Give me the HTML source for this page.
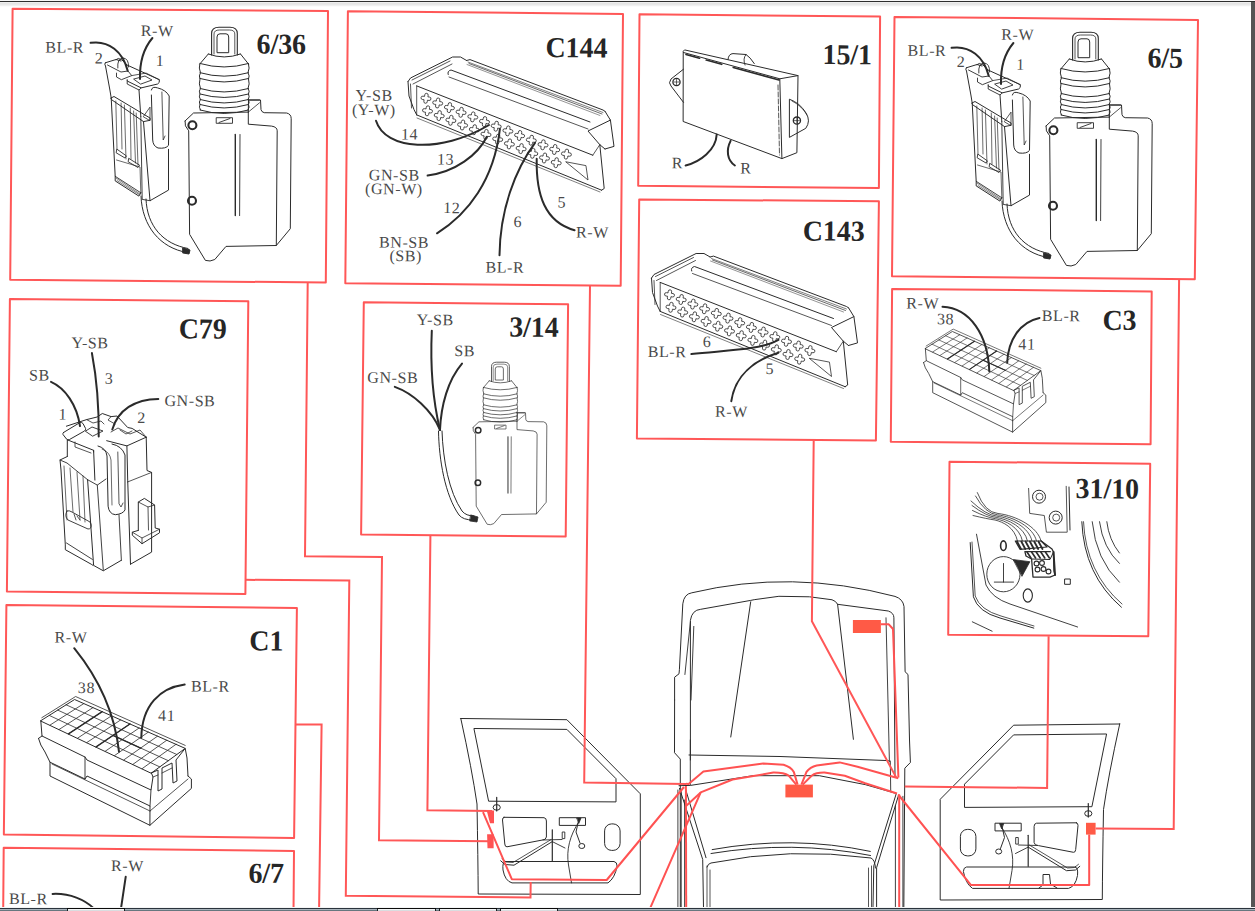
<!DOCTYPE html>
<html><head><meta charset="utf-8"><style>
html,body{margin:0;padding:0;background:#fff;}
body{width:1255px;height:911px;overflow:hidden;position:relative;}
svg{position:absolute;left:0;top:0;}
.ti{font-family:"Liberation Serif",serif;font-weight:bold;font-size:29px;fill:#262626;}
.lb{font-family:"Liberation Serif",serif;font-size:16px;letter-spacing:0.6px;fill:#4a4a4a;}
</style></head><body>
<svg width="1255" height="911" viewBox="0 0 1255 911">
<rect x="0" y="0" width="1255" height="911" fill="#fff"/>
<defs><g id="act"><path d="M211.6,55 L211.6,33.5 Q211.6,27.2 219,27.2 L230,27.2 Q237.3,27.2 237.3,33.5 L237.3,55" fill="none" stroke="#2b2b2b" stroke-width="1.1" stroke-linejoin="round" stroke-linecap="round" />
<path d="M214,54 L214,34 Q214,30 219.5,30 L229.5,30 Q234.8,30 234.8,34 L234.8,54" fill="none" stroke="#2b2b2b" stroke-width="0.8" stroke-linejoin="round" stroke-linecap="round" />
<path d="M217,52.3 L217,37 Q217,33.8 220,33.8 L226,33.8 Q228.7,33.8 228.7,37 L228.7,52.3 Z" fill="none" stroke="#2b2b2b" stroke-width="1.0" stroke-linejoin="round" stroke-linecap="round" />
<path d="M208.3,54 Q224,60 240.5,54" fill="none" stroke="#2b2b2b" stroke-width="1.0" stroke-linejoin="round" stroke-linecap="round" />
<path d="M208.3,54 L199.8,64" fill="none" stroke="#2b2b2b" stroke-width="1.0" stroke-linejoin="round" stroke-linecap="round" />
<path d="M240.5,54 L248.5,64" fill="none" stroke="#2b2b2b" stroke-width="1.0" stroke-linejoin="round" stroke-linecap="round" />
<path d="M199.8,64 Q198.5,68 200.5,72.7 Q198.5,76 200,79 Q198.5,84 200.5,88.5 Q198.5,91 200,94 Q198.5,97 200.5,99.5 Q198.5,102 200,104.5 Q198.5,107 200.5,110" fill="none" stroke="#2b2b2b" stroke-width="1.0" stroke-linejoin="round" stroke-linecap="round" />
<path d="M248.5,64 Q250,68 248,72.7 Q250,76 248.5,79 Q250,84 248,88.5 Q250,91 248.5,94 Q250,97 248,99.5 Q250,102 248.5,104.5 Q250,107 248,110" fill="none" stroke="#2b2b2b" stroke-width="1.0" stroke-linejoin="round" stroke-linecap="round" />
<path d="M200,63.5 Q224,70.5 248.5,63.5" fill="none" stroke="#2b2b2b" stroke-width="1.0" stroke-linejoin="round" stroke-linecap="round" />
<path d="M200,72.7 Q224,79.7 248.5,72.7" fill="none" stroke="#2b2b2b" stroke-width="1.0" stroke-linejoin="round" stroke-linecap="round" />
<path d="M200,78.5 Q224,85.5 248.5,78.5" fill="none" stroke="#2b2b2b" stroke-width="1.0" stroke-linejoin="round" stroke-linecap="round" />
<path d="M200,88.5 Q224,95.5 248.5,88.5" fill="none" stroke="#2b2b2b" stroke-width="1.0" stroke-linejoin="round" stroke-linecap="round" />
<path d="M200,94 Q224,101 248.5,94" fill="none" stroke="#2b2b2b" stroke-width="1.0" stroke-linejoin="round" stroke-linecap="round" />
<path d="M200,99.5 Q224,106.5 248.5,99.5" fill="none" stroke="#2b2b2b" stroke-width="1.0" stroke-linejoin="round" stroke-linecap="round" />
<path d="M200,104.5 Q224,111.5 248.5,104.5" fill="none" stroke="#2b2b2b" stroke-width="1.0" stroke-linejoin="round" stroke-linecap="round" />
<path d="M200,110 Q224,117 248.5,110" fill="none" stroke="#2b2b2b" stroke-width="1.0" stroke-linejoin="round" stroke-linecap="round" />
<path d="M185,121 L193.5,113 L248.3,112.1" fill="none" stroke="#2b2b2b" stroke-width="1.0" stroke-linejoin="round" stroke-linecap="round" />
<path d="M248.3,112.1 L248.5,100 L260.5,100 L261,109.6 Q261.4,112 264.2,112.7 L286.6,113 Q291.2,114 291.2,118.7 L290.3,228.7 L276.3,245.5" fill="none" stroke="#2b2b2b" stroke-width="1.0" stroke-linejoin="round" stroke-linecap="round" />
<path d="M248.3,100 L259.5,100" fill="none" stroke="#2b2b2b" stroke-width="1.0" stroke-linejoin="round" stroke-linecap="round" />
<path d="M248.3,112.1 L259.5,102.8" fill="none" stroke="#2b2b2b" stroke-width="0.8" stroke-linejoin="round" stroke-linecap="round" />
<path d="M248.3,112.1 L248.3,124.2 L271.6,126.1 Q277.2,127 277.2,130.8 L276.3,245.5 L226,246.4 L214.8,259.5 Q210,262 205.4,260.4 L189.6,234.3 L188.7,130.8 Q184,126 185,121" fill="none" stroke="#2b2b2b" stroke-width="1.0" stroke-linejoin="round" stroke-linecap="round" />
<circle cx="192.4" cy="125.2" r="4" fill="none" stroke="#2b2b2b" stroke-width="2.1"/>
<circle cx="192" cy="200.7" r="4" fill="none" stroke="#2b2b2b" stroke-width="2.1"/>
<path d="M216.6,117.7 L232.5,117.7 L232.5,123.3 L216.6,123.3 Z M219,122.5 L230,118.5" fill="none" stroke="#2b2b2b" stroke-width="0.9" stroke-linejoin="round" stroke-linecap="round" />
<path d="M235.3,134.5 L235.3,215.6" fill="none" stroke="#2b2b2b" stroke-width="1.4" stroke-linejoin="round" stroke-linecap="round" />
<path d="M240,134.5 L239.6,215.6" fill="none" stroke="#2b2b2b" stroke-width="0.9" stroke-linejoin="round" stroke-linecap="round" /></g><g id="con"><path d="M105.3,62.8 L116,59.5 L121,61" fill="none" stroke="#2b2b2b" stroke-width="1.0" stroke-linejoin="round" stroke-linecap="round" />
<path d="M105.3,62.8 Q104,64 105.5,66 L109.9,90 L111.2,97.9" fill="none" stroke="#2b2b2b" stroke-width="1.0" stroke-linejoin="round" stroke-linecap="round" />
<path d="M107.5,65 L121,72 L128,71 L131.7,75.6 L121.4,79.7 L116.5,77 L116.5,73.1" fill="none" stroke="#2b2b2b" stroke-width="0.9" stroke-linejoin="round" stroke-linecap="round" />
<path d="M117.8,68 Q117,58.5 123,58 Q128.8,58.3 128.6,67" fill="none" stroke="#2b2b2b" stroke-width="0.9" stroke-linejoin="round" stroke-linecap="round" />
<path d="M116,59.5 Q118,57 122,60 L127,65 L159.3,79.7 Q160,83 157.6,84 L141.2,87.9 L127.2,81 L127.2,79.7" fill="none" stroke="#2b2b2b" stroke-width="1.0" stroke-linejoin="round" stroke-linecap="round" />
<path d="M131.7,75.6 L146.1,73.1 L159.3,79.7" fill="none" stroke="#2b2b2b" stroke-width="0.8" stroke-linejoin="round" stroke-linecap="round" />
<path d="M134,79 L145,76 L152,80 L141,84 Z" fill="none" stroke="#2b2b2b" stroke-width="0.9" stroke-linejoin="round" stroke-linecap="round" />
<path d="M127.2,81 L127.2,84 L139,90 L141.2,87.9" fill="none" stroke="#2b2b2b" stroke-width="0.9" stroke-linejoin="round" stroke-linecap="round" />
<path d="M139,90 L140.8,116.4 M143.5,121.6 L150,200.7 L168.5,190.1 L168.5,149.3" fill="none" stroke="#2b2b2b" stroke-width="1.0" stroke-linejoin="round" stroke-linecap="round" />
<path d="M140.8,116.4 L142.2,199.4 L150,200.7" fill="none" stroke="#2b2b2b" stroke-width="0.9" stroke-linejoin="round" stroke-linecap="round" />
<path d="M151.4,90 Q152,86 157.6,87.9 Q166,90 169.2,96 L168.5,145.3 Q166,149 158,148 Q153,146 152.7,140 L151.4,95" fill="none" stroke="#2b2b2b" stroke-width="1.0" stroke-linejoin="round" stroke-linecap="round" />
<path d="M161.9,92 L163.2,140 L165,136" fill="none" stroke="#2b2b2b" stroke-width="0.8" stroke-linejoin="round" stroke-linecap="round" />
<path d="M143.5,116.4 L150,107.1 L150,120.3 Z" fill="none" stroke="#2b2b2b" stroke-width="0.8" stroke-linejoin="round" stroke-linecap="round" />
<path d="M111.2,97.9 L114,96.5 L150,118 L150,120.3 L143.5,121.6 L111.9,99.9 Z" fill="none" stroke="#2b2b2b" stroke-width="1.0" stroke-linejoin="round" stroke-linecap="round" />
<path d="M111.2,97.9 L115.2,176.3 L115.2,180.9 L138.9,196.1 L140.8,192.8" fill="none" stroke="#2b2b2b" stroke-width="1.0" stroke-linejoin="round" stroke-linecap="round" />
<path d="M115.8,101 L117,149 M121.1,103 L122,149 M124.4,105 L126,159 M130.3,108 L131,159 M133.6,111 L135.5,163 M136.2,113 L138,165" fill="none" stroke="#2b2b2b" stroke-width="0.7" stroke-linejoin="round" stroke-linecap="round" />
<path d="M117.1,149.3 L126.4,155.9 L125,158 L116.5,153 Z M129,158.5 L139.5,165.1 L138,167.5 L128.5,162 Z" fill="none" stroke="#2b2b2b" stroke-width="0.9" stroke-linejoin="round" stroke-linecap="round" />
<path d="M115.2,176.3 L140.8,192.8" fill="none" stroke="#2b2b2b" stroke-width="0.9" stroke-linejoin="round" stroke-linecap="round" />
<path d="M116,178 L140,194 M117,180.5 L139,194.5" fill="none" stroke="#2b2b2b" stroke-width="0.6" stroke-linejoin="round" stroke-linecap="round" />
<path d="M116.5,160 L140,167 L140.8,192.8" fill="none" stroke="#2b2b2b" stroke-width="0.7" stroke-linejoin="round" stroke-linecap="round" />
<path d="M141,196 C142,226 160,248 187,252.5" fill="none" stroke="#2b2b2b" stroke-width="1.0" stroke-linejoin="round" stroke-linecap="round" />
<path d="M146,199 C147,226 163,244 188,248.5" fill="none" stroke="#2b2b2b" stroke-width="1.0" stroke-linejoin="round" stroke-linecap="round" />
<path d="M183,248 L190,250 L189,254 L183,253 Z" fill="#2b2b2b" stroke="#2b2b2b" stroke-width="1.0" stroke-linejoin="round" stroke-linecap="round" />
<path d="M90.6,42.8 C109,40 123,52 127.7,70.8" fill="none" stroke="#2b2b2b" stroke-width="2.0" stroke-linejoin="round" stroke-linecap="round" />
<path d="M152.4,38 C144,48 139.5,62 140,79" fill="none" stroke="#2b2b2b" stroke-width="2.0" stroke-linejoin="round" stroke-linecap="round" /></g><g id="c144"><path d="M408,81.6 L410.5,78 L452.6,57 L460.5,57 L466.6,60.5" fill="none" stroke="#2b2b2b" stroke-width="1.0" stroke-linejoin="round" stroke-linecap="round" />
<path d="M408,81.6 L409,96 L414,109.6 L416.7,114.9" fill="none" stroke="#2b2b2b" stroke-width="1.0" stroke-linejoin="round" stroke-linecap="round" />
<path d="M412,80 L450,61 M413,84 L452,64" fill="none" stroke="#2b2b2b" stroke-width="0.8" stroke-linejoin="round" stroke-linecap="round" />
<path d="M410.5,84 L411.5,108" fill="none" stroke="#2b2b2b" stroke-width="0.8" stroke-linejoin="round" stroke-linecap="round" />
<path d="M466.6,60.5 L470,59.6 L603,110 L605.1,111.4" fill="none" stroke="#2b2b2b" stroke-width="1.0" stroke-linejoin="round" stroke-linecap="round" />
<path d="M469,63.5 L602,114" fill="none" stroke="#2b2b2b" stroke-width="0.7" stroke-linejoin="round" stroke-linecap="round" />
<path d="M448.2,74.5 Q447,71 451,70 L590,122" fill="none" stroke="#2b2b2b" stroke-width="1.0" stroke-linejoin="round" stroke-linecap="round" />
<path d="M449,77 L588,129" fill="none" stroke="#2b2b2b" stroke-width="0.8" stroke-linejoin="round" stroke-linecap="round" />
<path d="M416.7,85.9 L592.8,155.2" fill="none" stroke="#2b2b2b" stroke-width="1.0" stroke-linejoin="round" stroke-linecap="round" />
<path d="M416.7,114.9 L601.6,190.2" fill="none" stroke="#2b2b2b" stroke-width="1.0" stroke-linejoin="round" stroke-linecap="round" />
<path d="M417,118 L600,192" fill="none" stroke="#2b2b2b" stroke-width="0.6" stroke-linejoin="round" stroke-linecap="round" />
<path d="M416.7,85.9 L416.7,114.9" fill="none" stroke="#2b2b2b" stroke-width="0.8" stroke-linejoin="round" stroke-linecap="round" />
<path d="M605.1,111.4 L610.4,120.1 L588,131 L599.8,144.7 L604.2,188.5 L601.6,190.2" fill="none" stroke="#2b2b2b" stroke-width="1.0" stroke-linejoin="round" stroke-linecap="round" />
<path d="M610.4,120.1 L614,146.4 L605,149 M599.8,144.7 L605,149" fill="none" stroke="#2b2b2b" stroke-width="1.0" stroke-linejoin="round" stroke-linecap="round" />
<path d="M592.8,155.2 L599.8,144.7" fill="none" stroke="#2b2b2b" stroke-width="0.8" stroke-linejoin="round" stroke-linecap="round" />
<path d="M566,162 L588,180 L586,166 Z" fill="none" stroke="#2b2b2b" stroke-width="0.8" stroke-linejoin="round" stroke-linecap="round" />
<path d="M-1.7,-3.3 A1.7,1.7 0 0 1 1.7,-3.3 L1.7,-1.7 L3.3,-1.7 A1.7,1.7 0 0 1 3.3,1.7 L1.7,1.7 L1.7,3.3 A1.7,1.7 0 0 1 -1.7,3.3 L-1.7,1.7 L-3.3,1.7 A1.7,1.7 0 0 1 -3.3,-1.7 L-1.7,-1.7 Z" transform="translate(426.0,98.3) rotate(8)" fill="none" stroke="#2b2b2b" stroke-width="0.8" stroke-linejoin="round"/>
<path d="M-1.7,-3.3 A1.7,1.7 0 0 1 1.7,-3.3 L1.7,-1.7 L3.3,-1.7 A1.7,1.7 0 0 1 3.3,1.7 L1.7,1.7 L1.7,3.3 A1.7,1.7 0 0 1 -1.7,3.3 L-1.7,1.7 L-3.3,1.7 A1.7,1.7 0 0 1 -3.3,-1.7 L-1.7,-1.7 Z" transform="translate(427.5,110.8) rotate(8)" fill="none" stroke="#2b2b2b" stroke-width="0.8" stroke-linejoin="round"/>
<path d="M-1.7,-3.3 A1.7,1.7 0 0 1 1.7,-3.3 L1.7,-1.7 L3.3,-1.7 A1.7,1.7 0 0 1 3.3,1.7 L1.7,1.7 L1.7,3.3 A1.7,1.7 0 0 1 -1.7,3.3 L-1.7,1.7 L-3.3,1.7 A1.7,1.7 0 0 1 -3.3,-1.7 L-1.7,-1.7 Z" transform="translate(437.7,103.0) rotate(8)" fill="none" stroke="#2b2b2b" stroke-width="0.8" stroke-linejoin="round"/>
<path d="M-1.7,-3.3 A1.7,1.7 0 0 1 1.7,-3.3 L1.7,-1.7 L3.3,-1.7 A1.7,1.7 0 0 1 3.3,1.7 L1.7,1.7 L1.7,3.3 A1.7,1.7 0 0 1 -1.7,3.3 L-1.7,1.7 L-3.3,1.7 A1.7,1.7 0 0 1 -3.3,-1.7 L-1.7,-1.7 Z" transform="translate(439.2,115.6) rotate(8)" fill="none" stroke="#2b2b2b" stroke-width="0.8" stroke-linejoin="round"/>
<path d="M-1.7,-3.3 A1.7,1.7 0 0 1 1.7,-3.3 L1.7,-1.7 L3.3,-1.7 A1.7,1.7 0 0 1 3.3,1.7 L1.7,1.7 L1.7,3.3 A1.7,1.7 0 0 1 -1.7,3.3 L-1.7,1.7 L-3.3,1.7 A1.7,1.7 0 0 1 -3.3,-1.7 L-1.7,-1.7 Z" transform="translate(449.4,107.6) rotate(8)" fill="none" stroke="#2b2b2b" stroke-width="0.8" stroke-linejoin="round"/>
<path d="M-1.7,-3.3 A1.7,1.7 0 0 1 1.7,-3.3 L1.7,-1.7 L3.3,-1.7 A1.7,1.7 0 0 1 3.3,1.7 L1.7,1.7 L1.7,3.3 A1.7,1.7 0 0 1 -1.7,3.3 L-1.7,1.7 L-3.3,1.7 A1.7,1.7 0 0 1 -3.3,-1.7 L-1.7,-1.7 Z" transform="translate(450.9,120.3) rotate(8)" fill="none" stroke="#2b2b2b" stroke-width="0.8" stroke-linejoin="round"/>
<path d="M-1.7,-3.3 A1.7,1.7 0 0 1 1.7,-3.3 L1.7,-1.7 L3.3,-1.7 A1.7,1.7 0 0 1 3.3,1.7 L1.7,1.7 L1.7,3.3 A1.7,1.7 0 0 1 -1.7,3.3 L-1.7,1.7 L-3.3,1.7 A1.7,1.7 0 0 1 -3.3,-1.7 L-1.7,-1.7 Z" transform="translate(461.1,112.3) rotate(8)" fill="none" stroke="#2b2b2b" stroke-width="0.8" stroke-linejoin="round"/>
<path d="M-1.7,-3.3 A1.7,1.7 0 0 1 1.7,-3.3 L1.7,-1.7 L3.3,-1.7 A1.7,1.7 0 0 1 3.3,1.7 L1.7,1.7 L1.7,3.3 A1.7,1.7 0 0 1 -1.7,3.3 L-1.7,1.7 L-3.3,1.7 A1.7,1.7 0 0 1 -3.3,-1.7 L-1.7,-1.7 Z" transform="translate(462.6,125.0) rotate(8)" fill="none" stroke="#2b2b2b" stroke-width="0.8" stroke-linejoin="round"/>
<path d="M-1.7,-3.3 A1.7,1.7 0 0 1 1.7,-3.3 L1.7,-1.7 L3.3,-1.7 A1.7,1.7 0 0 1 3.3,1.7 L1.7,1.7 L1.7,3.3 A1.7,1.7 0 0 1 -1.7,3.3 L-1.7,1.7 L-3.3,1.7 A1.7,1.7 0 0 1 -3.3,-1.7 L-1.7,-1.7 Z" transform="translate(472.8,116.9) rotate(8)" fill="none" stroke="#2b2b2b" stroke-width="0.8" stroke-linejoin="round"/>
<path d="M-1.7,-3.3 A1.7,1.7 0 0 1 1.7,-3.3 L1.7,-1.7 L3.3,-1.7 A1.7,1.7 0 0 1 3.3,1.7 L1.7,1.7 L1.7,3.3 A1.7,1.7 0 0 1 -1.7,3.3 L-1.7,1.7 L-3.3,1.7 A1.7,1.7 0 0 1 -3.3,-1.7 L-1.7,-1.7 Z" transform="translate(474.3,129.7) rotate(8)" fill="none" stroke="#2b2b2b" stroke-width="0.8" stroke-linejoin="round"/>
<path d="M-1.7,-3.3 A1.7,1.7 0 0 1 1.7,-3.3 L1.7,-1.7 L3.3,-1.7 A1.7,1.7 0 0 1 3.3,1.7 L1.7,1.7 L1.7,3.3 A1.7,1.7 0 0 1 -1.7,3.3 L-1.7,1.7 L-3.3,1.7 A1.7,1.7 0 0 1 -3.3,-1.7 L-1.7,-1.7 Z" transform="translate(484.5,121.6) rotate(8)" fill="none" stroke="#2b2b2b" stroke-width="0.8" stroke-linejoin="round"/>
<path d="M-1.7,-3.3 A1.7,1.7 0 0 1 1.7,-3.3 L1.7,-1.7 L3.3,-1.7 A1.7,1.7 0 0 1 3.3,1.7 L1.7,1.7 L1.7,3.3 A1.7,1.7 0 0 1 -1.7,3.3 L-1.7,1.7 L-3.3,1.7 A1.7,1.7 0 0 1 -3.3,-1.7 L-1.7,-1.7 Z" transform="translate(486.0,134.4) rotate(8)" fill="none" stroke="#2b2b2b" stroke-width="0.8" stroke-linejoin="round"/>
<path d="M-1.7,-3.3 A1.7,1.7 0 0 1 1.7,-3.3 L1.7,-1.7 L3.3,-1.7 A1.7,1.7 0 0 1 3.3,1.7 L1.7,1.7 L1.7,3.3 A1.7,1.7 0 0 1 -1.7,3.3 L-1.7,1.7 L-3.3,1.7 A1.7,1.7 0 0 1 -3.3,-1.7 L-1.7,-1.7 Z" transform="translate(496.2,126.2) rotate(8)" fill="none" stroke="#2b2b2b" stroke-width="0.8" stroke-linejoin="round"/>
<path d="M-1.7,-3.3 A1.7,1.7 0 0 1 1.7,-3.3 L1.7,-1.7 L3.3,-1.7 A1.7,1.7 0 0 1 3.3,1.7 L1.7,1.7 L1.7,3.3 A1.7,1.7 0 0 1 -1.7,3.3 L-1.7,1.7 L-3.3,1.7 A1.7,1.7 0 0 1 -3.3,-1.7 L-1.7,-1.7 Z" transform="translate(497.7,139.2) rotate(8)" fill="none" stroke="#2b2b2b" stroke-width="0.8" stroke-linejoin="round"/>
<path d="M-1.7,-3.3 A1.7,1.7 0 0 1 1.7,-3.3 L1.7,-1.7 L3.3,-1.7 A1.7,1.7 0 0 1 3.3,1.7 L1.7,1.7 L1.7,3.3 A1.7,1.7 0 0 1 -1.7,3.3 L-1.7,1.7 L-3.3,1.7 A1.7,1.7 0 0 1 -3.3,-1.7 L-1.7,-1.7 Z" transform="translate(507.9,130.9) rotate(8)" fill="none" stroke="#2b2b2b" stroke-width="0.8" stroke-linejoin="round"/>
<path d="M-1.7,-3.3 A1.7,1.7 0 0 1 1.7,-3.3 L1.7,-1.7 L3.3,-1.7 A1.7,1.7 0 0 1 3.3,1.7 L1.7,1.7 L1.7,3.3 A1.7,1.7 0 0 1 -1.7,3.3 L-1.7,1.7 L-3.3,1.7 A1.7,1.7 0 0 1 -3.3,-1.7 L-1.7,-1.7 Z" transform="translate(509.4,143.9) rotate(8)" fill="none" stroke="#2b2b2b" stroke-width="0.8" stroke-linejoin="round"/>
<path d="M-1.7,-3.3 A1.7,1.7 0 0 1 1.7,-3.3 L1.7,-1.7 L3.3,-1.7 A1.7,1.7 0 0 1 3.3,1.7 L1.7,1.7 L1.7,3.3 A1.7,1.7 0 0 1 -1.7,3.3 L-1.7,1.7 L-3.3,1.7 A1.7,1.7 0 0 1 -3.3,-1.7 L-1.7,-1.7 Z" transform="translate(519.6,135.5) rotate(8)" fill="none" stroke="#2b2b2b" stroke-width="0.8" stroke-linejoin="round"/>
<path d="M-1.7,-3.3 A1.7,1.7 0 0 1 1.7,-3.3 L1.7,-1.7 L3.3,-1.7 A1.7,1.7 0 0 1 3.3,1.7 L1.7,1.7 L1.7,3.3 A1.7,1.7 0 0 1 -1.7,3.3 L-1.7,1.7 L-3.3,1.7 A1.7,1.7 0 0 1 -3.3,-1.7 L-1.7,-1.7 Z" transform="translate(521.1,148.6) rotate(8)" fill="none" stroke="#2b2b2b" stroke-width="0.8" stroke-linejoin="round"/>
<path d="M-1.7,-3.3 A1.7,1.7 0 0 1 1.7,-3.3 L1.7,-1.7 L3.3,-1.7 A1.7,1.7 0 0 1 3.3,1.7 L1.7,1.7 L1.7,3.3 A1.7,1.7 0 0 1 -1.7,3.3 L-1.7,1.7 L-3.3,1.7 A1.7,1.7 0 0 1 -3.3,-1.7 L-1.7,-1.7 Z" transform="translate(531.3,140.2) rotate(8)" fill="none" stroke="#2b2b2b" stroke-width="0.8" stroke-linejoin="round"/>
<path d="M-1.7,-3.3 A1.7,1.7 0 0 1 1.7,-3.3 L1.7,-1.7 L3.3,-1.7 A1.7,1.7 0 0 1 3.3,1.7 L1.7,1.7 L1.7,3.3 A1.7,1.7 0 0 1 -1.7,3.3 L-1.7,1.7 L-3.3,1.7 A1.7,1.7 0 0 1 -3.3,-1.7 L-1.7,-1.7 Z" transform="translate(532.8,153.3) rotate(8)" fill="none" stroke="#2b2b2b" stroke-width="0.8" stroke-linejoin="round"/>
<path d="M-1.7,-3.3 A1.7,1.7 0 0 1 1.7,-3.3 L1.7,-1.7 L3.3,-1.7 A1.7,1.7 0 0 1 3.3,1.7 L1.7,1.7 L1.7,3.3 A1.7,1.7 0 0 1 -1.7,3.3 L-1.7,1.7 L-3.3,1.7 A1.7,1.7 0 0 1 -3.3,-1.7 L-1.7,-1.7 Z" transform="translate(543.0,144.8) rotate(8)" fill="none" stroke="#2b2b2b" stroke-width="0.8" stroke-linejoin="round"/>
<path d="M-1.7,-3.3 A1.7,1.7 0 0 1 1.7,-3.3 L1.7,-1.7 L3.3,-1.7 A1.7,1.7 0 0 1 3.3,1.7 L1.7,1.7 L1.7,3.3 A1.7,1.7 0 0 1 -1.7,3.3 L-1.7,1.7 L-3.3,1.7 A1.7,1.7 0 0 1 -3.3,-1.7 L-1.7,-1.7 Z" transform="translate(544.5,158.0) rotate(8)" fill="none" stroke="#2b2b2b" stroke-width="0.8" stroke-linejoin="round"/>
<path d="M-1.7,-3.3 A1.7,1.7 0 0 1 1.7,-3.3 L1.7,-1.7 L3.3,-1.7 A1.7,1.7 0 0 1 3.3,1.7 L1.7,1.7 L1.7,3.3 A1.7,1.7 0 0 1 -1.7,3.3 L-1.7,1.7 L-3.3,1.7 A1.7,1.7 0 0 1 -3.3,-1.7 L-1.7,-1.7 Z" transform="translate(554.7,149.5) rotate(8)" fill="none" stroke="#2b2b2b" stroke-width="0.8" stroke-linejoin="round"/>
<path d="M-1.7,-3.3 A1.7,1.7 0 0 1 1.7,-3.3 L1.7,-1.7 L3.3,-1.7 A1.7,1.7 0 0 1 3.3,1.7 L1.7,1.7 L1.7,3.3 A1.7,1.7 0 0 1 -1.7,3.3 L-1.7,1.7 L-3.3,1.7 A1.7,1.7 0 0 1 -3.3,-1.7 L-1.7,-1.7 Z" transform="translate(556.2,162.7) rotate(8)" fill="none" stroke="#2b2b2b" stroke-width="0.8" stroke-linejoin="round"/>
<path d="M-1.7,-3.3 A1.7,1.7 0 0 1 1.7,-3.3 L1.7,-1.7 L3.3,-1.7 A1.7,1.7 0 0 1 3.3,1.7 L1.7,1.7 L1.7,3.3 A1.7,1.7 0 0 1 -1.7,3.3 L-1.7,1.7 L-3.3,1.7 A1.7,1.7 0 0 1 -3.3,-1.7 L-1.7,-1.7 Z" transform="translate(566.4,154.1) rotate(8)" fill="none" stroke="#2b2b2b" stroke-width="0.8" stroke-linejoin="round"/>
<path d="M468,62 L603,112.5" fill="none" stroke="#2b2b2b" stroke-width="0.6" stroke-linejoin="round" stroke-linecap="round" />
<path d="M467,64.5 L600,115.5" fill="none" stroke="#2b2b2b" stroke-width="0.5" stroke-linejoin="round" stroke-linecap="round" /></g><g id="c1"><path d="M40.8,720.7 L74.6,699.5 L185.2,748.4 L151.4,773.0 Z" fill="none" stroke="#2b2b2b" stroke-width="1.0" stroke-linejoin="round" stroke-linecap="round" />
<path d="M41.8,717.7 L75.6,696.5 L185.2,745.4" fill="none" stroke="#2b2b2b" stroke-width="0.8" stroke-linejoin="round" stroke-linecap="round" />
<path d="M50.0,725.1 L83.8,703.6" fill="none" stroke="#2b2b2b" stroke-width="0.8" stroke-linejoin="round" stroke-linecap="round" />
<path d="M59.2,729.4 L93.0,707.6" fill="none" stroke="#2b2b2b" stroke-width="0.8" stroke-linejoin="round" stroke-linecap="round" />
<path d="M68.5,733.8 L102.2,711.7" fill="none" stroke="#2b2b2b" stroke-width="0.8" stroke-linejoin="round" stroke-linecap="round" />
<path d="M77.7,738.1 L111.5,715.8" fill="none" stroke="#2b2b2b" stroke-width="0.8" stroke-linejoin="round" stroke-linecap="round" />
<path d="M86.9,742.5 L120.7,719.9" fill="none" stroke="#2b2b2b" stroke-width="0.8" stroke-linejoin="round" stroke-linecap="round" />
<path d="M96.1,746.9 L129.9,724.0" fill="none" stroke="#2b2b2b" stroke-width="0.8" stroke-linejoin="round" stroke-linecap="round" />
<path d="M105.3,751.2 L139.1,728.0" fill="none" stroke="#2b2b2b" stroke-width="0.8" stroke-linejoin="round" stroke-linecap="round" />
<path d="M114.5,755.6 L148.3,732.1" fill="none" stroke="#2b2b2b" stroke-width="0.8" stroke-linejoin="round" stroke-linecap="round" />
<path d="M123.8,759.9 L157.5,736.2" fill="none" stroke="#2b2b2b" stroke-width="0.8" stroke-linejoin="round" stroke-linecap="round" />
<path d="M133.0,764.3 L166.8,740.2" fill="none" stroke="#2b2b2b" stroke-width="0.8" stroke-linejoin="round" stroke-linecap="round" />
<path d="M142.2,768.6 L176.0,744.3" fill="none" stroke="#2b2b2b" stroke-width="0.8" stroke-linejoin="round" stroke-linecap="round" />
<path d="M49.2,715.4 L159.8,766.9" fill="none" stroke="#2b2b2b" stroke-width="0.8" stroke-linejoin="round" stroke-linecap="round" />
<path d="M57.7,710.1 L168.3,760.7" fill="none" stroke="#2b2b2b" stroke-width="0.8" stroke-linejoin="round" stroke-linecap="round" />
<path d="M66.1,704.8 L176.8,754.5" fill="none" stroke="#2b2b2b" stroke-width="0.8" stroke-linejoin="round" stroke-linecap="round" />
<path d="M68.5,733.8 L102.2,711.7" fill="none" stroke="#2b2b2b" stroke-width="1.4" stroke-linejoin="round" stroke-linecap="round" />
<path d="M96.1,746.9 L129.9,724.0" fill="none" stroke="#2b2b2b" stroke-width="1.4" stroke-linejoin="round" stroke-linecap="round" />
<path d="M113.0,735.4 L140.7,748.1" fill="none" stroke="#2b2b2b" stroke-width="1.4" stroke-linejoin="round" stroke-linecap="round" />
<path d="M40.8,720.7 L42,736 L85,757 L87,760 L151,790 L153,777 L151.4,773" fill="none" stroke="#2b2b2b" stroke-width="1.0" stroke-linejoin="round" stroke-linecap="round" />
<path d="M38.5,738.4 L42,736 M38.5,738.4 Q40,745 45,752 L50,762.2 L50,776 L149.9,825.3 L191.4,788.4 L191.4,779 L188,776" fill="none" stroke="#2b2b2b" stroke-width="1.0" stroke-linejoin="round" stroke-linecap="round" />
<path d="M50,762.2 L85,779 L87,776 L150,806 L149.9,825.3" fill="none" stroke="#2b2b2b" stroke-width="1.0" stroke-linejoin="round" stroke-linecap="round" />
<path d="M85,757 L85,779 M150,806 L151,790" fill="none" stroke="#2b2b2b" stroke-width="0.9" stroke-linejoin="round" stroke-linecap="round" />
<path d="M52,764 L150,811 M150,811 L188,779" fill="none" stroke="#2b2b2b" stroke-width="0.8" stroke-linejoin="round" stroke-linecap="round" />
<path d="M151.4,773 L158,770 L158,791 L162,789 L162,768 L172,763 L173,783 L177,781 L176,760 L185.2,748.4 L187,758 L188,776" fill="none" stroke="#2b2b2b" stroke-width="1.0" stroke-linejoin="round" stroke-linecap="round" />
<path d="M153,777 L158,775 M162,773 L172,768" fill="none" stroke="#2b2b2b" stroke-width="0.8" stroke-linejoin="round" stroke-linecap="round" /></g><g id="door"><path d="M460.8,718.5 L566.9,719.7 L640.3,793.8 L640.3,894.5 L478.2,894 Q478,860 477,804 Q472,769.5 460.8,718.5 Z" fill="none" stroke="#2b2b2b" stroke-width="1.0" stroke-linejoin="round" stroke-linecap="round" />
<path d="M474.3,728.5 L566.9,729.4 L616,778.7 L616,801.9 L489,801.2 Z" fill="none" stroke="#2b2b2b" stroke-width="1.0" stroke-linejoin="round" stroke-linecap="round" />
<path d="M504,817.3 L544,817.7 Q546.4,818 546.4,821 L546.4,837 Q546,840 542,840.1 L507,846.8 Q505,847 504.8,844 L502.5,820 Q502.5,817.3 504,817.3 Z" fill="none" stroke="#2b2b2b" stroke-width="1.0" stroke-linejoin="round" stroke-linecap="round" />
<path d="M505,861.5 L614,861.5 Q617.1,862 617.1,866 Q615,878 608,882.9 L512,882.9 Q505,881 503,870 Q502.2,862 505,861.5 Z" fill="none" stroke="#2b2b2b" stroke-width="1.0" stroke-linejoin="round" stroke-linecap="round" />
<path d="M559.7,817.7 L585.5,817.7 L585.5,825.4 L559.7,825.4 Z" fill="none" stroke="#2b2b2b" stroke-width="1.0" stroke-linejoin="round" stroke-linecap="round" />
<rect x="604.6" y="823.9" width="15.5" height="26.5" rx="7" fill="none" stroke="#2b2b2b" stroke-width="1"/>
<path d="M500.7,860.8 L505,864.5 L514,865.2 L552.3,841.6" fill="none" stroke="#2b2b2b" stroke-width="1.0" stroke-linejoin="round" stroke-linecap="round" />
<path d="M502,858.8 L506,862 L513,862.5 L551,839.6" fill="none" stroke="#2b2b2b" stroke-width="0.8" stroke-linejoin="round" stroke-linecap="round" />
<path d="M552.3,829.8 L552.3,860.8" fill="none" stroke="#2b2b2b" stroke-width="1.2" stroke-linejoin="round" stroke-linecap="round" />
<path d="M552.3,841.6 L565,848 M543,840 L562,839.5" fill="none" stroke="#2b2b2b" stroke-width="0.9" stroke-linejoin="round" stroke-linecap="round" />
<path d="M562.6,832 L564.8,832 L564.8,838.6 L562.6,838.6 Z" fill="none" stroke="#2b2b2b" stroke-width="0.9" stroke-linejoin="round" stroke-linecap="round" />
<ellipse cx="581.8" cy="846" rx="3" ry="2.5" fill="none" stroke="#2b2b2b" stroke-width="1"/>
<path d="M578.8,819.5 L576,832 L580,843" fill="none" stroke="#2b2b2b" stroke-width="1.0" stroke-linejoin="round" stroke-linecap="round" />
<path d="M578.8,822 C570,835 566,850 568.5,865 L571.5,882.9" fill="none" stroke="#2b2b2b" stroke-width="0.9" stroke-linejoin="round" stroke-linecap="round" />
<path d="M577,818 L581,818 L579,823 Z" fill="#2b2b2b" stroke="#2b2b2b" stroke-width="0.8" stroke-linejoin="round" stroke-linecap="round" /></g></defs>
<use href="#act"/><use href="#con"/>
<use href="#act" transform="translate(861,5)"/><use href="#con" transform="translate(861,5)"/>
<use href="#act" transform="translate(500.4,362.2) scale(0.695) translate(-224.4,-27.2)"/>
<use href="#c144"/><use href="#c144" transform="translate(243.5,196.5)"/>
<use href="#c1"/><use href="#c1" transform="translate(923.5,362.6) scale(0.8) translate(-38.5,-738.4)"/>
<path d="M63.5,432.5 L79.7,422.7 Q82,422 83,423.5 L85.6,428.5 Q86,430 84.5,431 L69.5,439.5 Q67.5,440.5 66.5,439 L63,434.5 Q62.5,433.3 63.5,432.5 Z" fill="none" stroke="#2b2b2b" stroke-width="1.0" stroke-linejoin="round" stroke-linecap="round" />
<path d="M66.4,426.2 L86.6,419.6 L97.1,417 L102.3,413.5 L111.1,416.6 L117,416 L127.7,427.5 L132.1,428.4 L146.2,437.2" fill="none" stroke="#2b2b2b" stroke-width="1.0" stroke-linejoin="round" stroke-linecap="round" />
<path d="M86.6,419.6 L93,423 L101,421 L104,424 M111.1,416.6 L108,420 L115,424" fill="none" stroke="#2b2b2b" stroke-width="0.8" stroke-linejoin="round" stroke-linecap="round" />
<path d="M85.7,431 L92,427 L103,431 L93,436 Z" fill="none" stroke="#2b2b2b" stroke-width="0.9" stroke-linejoin="round" stroke-linecap="round" />
<path d="M111,432 L118,428 L130,434 L140,430 L146.2,437.2" fill="none" stroke="#2b2b2b" stroke-width="0.8" stroke-linejoin="round" stroke-linecap="round" />
<path d="M120,430 L126,434 L132,431" fill="none" stroke="#2b2b2b" stroke-width="0.8" stroke-linejoin="round" stroke-linecap="round" />
<path d="M67.3,439.8 L93.6,450.3 L93.6,452" fill="none" stroke="#2b2b2b" stroke-width="1.0" stroke-linejoin="round" stroke-linecap="round" />
<path d="M67.3,439.8 L67.3,456.5" fill="none" stroke="#2b2b2b" stroke-width="1.0" stroke-linejoin="round" stroke-linecap="round" />
<path d="M75,442 L75,447 L91,453" fill="none" stroke="#2b2b2b" stroke-width="0.8" stroke-linejoin="round" stroke-linecap="round" />
<path d="M106.7,440.7 L126.9,445.9 L146.2,437.2" fill="none" stroke="#2b2b2b" stroke-width="1.0" stroke-linejoin="round" stroke-linecap="round" />
<path d="M126.9,445.9 L127.7,480.1 L130.5,564.2" fill="none" stroke="#2b2b2b" stroke-width="1.0" stroke-linejoin="round" stroke-linecap="round" />
<path d="M146.2,437.2 L147,470.5 L151.6,472.4 L151.6,552.1 L130.5,564.2" fill="none" stroke="#2b2b2b" stroke-width="1.0" stroke-linejoin="round" stroke-linecap="round" />
<path d="M127.5,482 L151.6,472.4" fill="none" stroke="#2b2b2b" stroke-width="0.8" stroke-linejoin="round" stroke-linecap="round" />
<path d="M93.6,450.3 L94.9,480.1 M87.6,479.7 L93.6,565.4 L103.3,570.8 L120.8,560.6" fill="none" stroke="#2b2b2b" stroke-width="1.0" stroke-linejoin="round" stroke-linecap="round" />
<path d="M97.3,485.1 L103.3,570.2" fill="none" stroke="#2b2b2b" stroke-width="0.9" stroke-linejoin="round" stroke-linecap="round" />
<path d="M87.6,479.7 L97.3,485.1 L106,479" fill="none" stroke="#2b2b2b" stroke-width="0.9" stroke-linejoin="round" stroke-linecap="round" />
<path d="M119,514.7 L121.4,560.6" fill="none" stroke="#2b2b2b" stroke-width="0.9" stroke-linejoin="round" stroke-linecap="round" />
<path d="M98,446 Q106,448 107,456 L108.1,506.2 Q109,514 115.4,514.7 Q123,514 125,509.9 L125,455 Q122,446 112,444" fill="none" stroke="#2b2b2b" stroke-width="1.0" stroke-linejoin="round" stroke-linecap="round" />
<path d="M117.8,452 L119,503.8 L121,507 L123,503" fill="none" stroke="#2b2b2b" stroke-width="0.8" stroke-linejoin="round" stroke-linecap="round" />
<path d="M102,449 Q110,452 111,460 L112,505" fill="none" stroke="#2b2b2b" stroke-width="0.7" stroke-linejoin="round" stroke-linecap="round" />
<path d="M67.3,456.5 L60,460 L61,470 L65.3,544.9 L65.3,549.7 L91.2,564.2 L93,565.4" fill="none" stroke="#2b2b2b" stroke-width="1.0" stroke-linejoin="round" stroke-linecap="round" />
<path d="M66.5,543 L92.4,559.4" fill="none" stroke="#2b2b2b" stroke-width="0.9" stroke-linejoin="round" stroke-linecap="round" />
<path d="M60,460 L67,463 L87.6,479.7" fill="none" stroke="#2b2b2b" stroke-width="0.9" stroke-linejoin="round" stroke-linecap="round" />
<path d="M64,466 L67,520 M70,468 L73,512 M77,472 L80,520 M83,476 L85,522" fill="none" stroke="#2b2b2b" stroke-width="0.7" stroke-linejoin="round" stroke-linecap="round" />
<path d="M67,511 Q64,516 68,520 L88,529 Q92,529 91,524 L90,522 L72,512 Q69,510 67,511 Z" fill="none" stroke="#2b2b2b" stroke-width="0.9" stroke-linejoin="round" stroke-linecap="round" />
<path d="M77,516 L80,520 M74,514 L76,520" fill="none" stroke="#2b2b2b" stroke-width="0.8" stroke-linejoin="round" stroke-linecap="round" />
<path d="M138.3,530.4 L138.3,502 L144.4,498.4 L154.6,505 L155.2,528 L159.5,529.2 L159.5,532.8 L142,543.7 L132.3,535.2 L132.3,532.2 L138.3,530.4" fill="none" stroke="#2b2b2b" stroke-width="1.0" stroke-linejoin="round" stroke-linecap="round" />
<path d="M138.3,502 L148,507 L154.6,505 M148,507 L148.5,530 M132.3,532.2 L142,538 L159.5,529.2 M142,538 L142,543.7" fill="none" stroke="#2b2b2b" stroke-width="0.8" stroke-linejoin="round" stroke-linecap="round" />
<path d="M683.5,51 L684.6,49.9 L798,75.6 L796.9,152.7 L781.9,158.6 L683.5,121.6 Z" fill="none" stroke="#2b2b2b" stroke-width="1.0" stroke-linejoin="round" stroke-linecap="round" />
<path d="M683.5,52.5 L779.8,78.8 L798,75.6 M779.8,78.8 L781.9,158.6" fill="none" stroke="#2b2b2b" stroke-width="1.0" stroke-linejoin="round" stroke-linecap="round" />
<path d="M686,54.5 L779,80" fill="none" stroke="#2b2b2b" stroke-width="1.7" stroke-linejoin="round" stroke-linecap="round" stroke-dasharray="14,7,16,12,60"/>
<path d="M778,85 L779.5,155" fill="none" stroke="#2b2b2b" stroke-width="0.8" stroke-linejoin="round" stroke-linecap="round" stroke-dasharray="5,2"/>
<path d="M728,59.5 Q728.5,53.8 733,53.6 L746,54.5 Q750,57 754.3,63.6" fill="none" stroke="#2b2b2b" stroke-width="1.0" stroke-linejoin="round" stroke-linecap="round" />
<path d="M746,54.5 Q742.5,58.5 745,65" fill="none" stroke="#2b2b2b" stroke-width="0.9" stroke-linejoin="round" stroke-linecap="round" />
<path d="M683.5,69.2 L671,79 Q668,83 671,86 L683.5,102.4" fill="none" stroke="#2b2b2b" stroke-width="1.0" stroke-linejoin="round" stroke-linecap="round" />
<circle cx="676.5" cy="82" r="3.6" fill="none" stroke="#2b2b2b" stroke-width="1.3"/>
<path d="M674,82 L679,82 M676.5,79.5 L676.5,84.5" fill="none" stroke="#2b2b2b" stroke-width="0.7" stroke-linejoin="round" stroke-linecap="round" />
<path d="M789.4,137 L789.4,99.2 Q800,103 806,113 Q811,121 806,128 Z" fill="none" stroke="#2b2b2b" stroke-width="1.0" stroke-linejoin="round" stroke-linecap="round" />
<path d="M792,101 Q802,106 807,115" fill="none" stroke="#2b2b2b" stroke-width="0.7" stroke-linejoin="round" stroke-linecap="round" />
<circle cx="796.9" cy="120.6" r="3.6" fill="none" stroke="#2b2b2b" stroke-width="1.3"/>
<path d="M794.4,120.6 L799.4,120.6 M796.9,118.1 L796.9,123.1" fill="none" stroke="#2b2b2b" stroke-width="0.7" stroke-linejoin="round" stroke-linecap="round" />
<path d="M716.7,134.5 C716,150 700,162 685.6,165.5" fill="none" stroke="#2b2b2b" stroke-width="2.0" stroke-linejoin="round" stroke-linecap="round" />
<path d="M730.6,140.9 C726,150 727,160 734.9,165.5" fill="none" stroke="#2b2b2b" stroke-width="2.0" stroke-linejoin="round" stroke-linecap="round" />
<path d="M977.3,492.6 Q985.0,512.5 998.0,513.5 C1016.0,515.5 1038.0,527.0 1041,541" fill="none" stroke="#2b2b2b" stroke-width="0.8" stroke-linejoin="round" stroke-linecap="round" />
<path d="M975.5,496 Q985.5,513.8 997.4,514.8 C1013.4,516.8 1033.5,527.0 1036.5,541" fill="none" stroke="#2b2b2b" stroke-width="0.8" stroke-linejoin="round" stroke-linecap="round" />
<path d="M971,501 Q986.0,515.1 996.8,516.1 C1010.8,518.1 1029.0,527.0 1032,541" fill="none" stroke="#2b2b2b" stroke-width="0.8" stroke-linejoin="round" stroke-linecap="round" />
<path d="M972,505.5 Q986.5,516.4 996.2,517.4 C1008.2,519.4 1024.5,527.0 1027.5,541" fill="none" stroke="#2b2b2b" stroke-width="0.8" stroke-linejoin="round" stroke-linecap="round" />
<path d="M972.5,510.5 Q987.0,517.7 995.6,518.7 C1005.6,520.7 1019.5,527.0 1022.5,541" fill="none" stroke="#2b2b2b" stroke-width="0.8" stroke-linejoin="round" stroke-linecap="round" />
<path d="M973,515.5 Q987.5,519.0 995.0,520.0 C1003.0,522.0 1014.5,527.0 1017.5,541" fill="none" stroke="#2b2b2b" stroke-width="0.8" stroke-linejoin="round" stroke-linecap="round" />
<path d="M1015.3,541 L1041.2,541 L1047,547 L1020,549.3 Z" fill="none" stroke="#2b2b2b" stroke-width="1.2" stroke-linejoin="round" stroke-linecap="round" />
<path d="M1017.0,541.5 L1021.0,549" fill="none" stroke="#2b2b2b" stroke-width="1.8" stroke-linejoin="round" stroke-linecap="round" />
<path d="M1021.3,541.5 L1025.3,549" fill="none" stroke="#2b2b2b" stroke-width="1.8" stroke-linejoin="round" stroke-linecap="round" />
<path d="M1025.6,541.5 L1029.6,549" fill="none" stroke="#2b2b2b" stroke-width="1.8" stroke-linejoin="round" stroke-linecap="round" />
<path d="M1029.9,541.5 L1033.9,549" fill="none" stroke="#2b2b2b" stroke-width="1.8" stroke-linejoin="round" stroke-linecap="round" />
<path d="M1034.2,541.5 L1038.2,549" fill="none" stroke="#2b2b2b" stroke-width="1.8" stroke-linejoin="round" stroke-linecap="round" />
<path d="M1038.5,541.5 L1042.5,549" fill="none" stroke="#2b2b2b" stroke-width="1.8" stroke-linejoin="round" stroke-linecap="round" />
<path d="M1041.2,541 L1052,549 L1053.5,552 L1054,571 L1055.1,575 L1050,577.1 L1033,577 L1031.6,559 L1026,556 L1024.9,551.7 L1050.3,551.7" fill="none" stroke="#2b2b2b" stroke-width="1.3" stroke-linejoin="round" stroke-linecap="round" />
<path d="M1027.0,552 L1031.0,558" fill="none" stroke="#2b2b2b" stroke-width="1.6" stroke-linejoin="round" stroke-linecap="round" />
<path d="M1031.6,552 L1035.6,558" fill="none" stroke="#2b2b2b" stroke-width="1.6" stroke-linejoin="round" stroke-linecap="round" />
<path d="M1036.2,552 L1040.2,558" fill="none" stroke="#2b2b2b" stroke-width="1.6" stroke-linejoin="round" stroke-linecap="round" />
<path d="M1040.8,552 L1044.8,558" fill="none" stroke="#2b2b2b" stroke-width="1.6" stroke-linejoin="round" stroke-linecap="round" />
<path d="M1045.4,552 L1049.4,558" fill="none" stroke="#2b2b2b" stroke-width="1.6" stroke-linejoin="round" stroke-linecap="round" />
<path d="M1031.6,559 L1050,559.5 L1053.5,552" fill="none" stroke="#2b2b2b" stroke-width="1.0" stroke-linejoin="round" stroke-linecap="round" />
<circle cx="1036.5" cy="563.5" r="2.4" fill="none" stroke="#2b2b2b" stroke-width="1.1"/>
<circle cx="1042" cy="563" r="2.4" fill="none" stroke="#2b2b2b" stroke-width="1.1"/>
<circle cx="1037.5" cy="569.5" r="2.4" fill="none" stroke="#2b2b2b" stroke-width="1.1"/>
<circle cx="1043.5" cy="569" r="2.4" fill="none" stroke="#2b2b2b" stroke-width="1.1"/>
<circle cx="1048.5" cy="571.5" r="2.4" fill="none" stroke="#2b2b2b" stroke-width="1.1"/>
<path d="M1053.5,552 L1055,575" fill="none" stroke="#2b2b2b" stroke-width="2.0" stroke-linejoin="round" stroke-linecap="round" />
<ellipse cx="1003.4" cy="574.2" rx="16.6" ry="17.6" fill="none" stroke="#2b2b2b" stroke-width="0.9"/>
<path d="M1003.5,563.5 L1003.5,582.1 M994.3,582.1 L1013.5,582.1" fill="none" stroke="#2b2b2b" stroke-width="0.9" stroke-linejoin="round" stroke-linecap="round" />
<path d="M1013.5,559.6 L1029.9,561.7 L1022.1,576 Z" fill="#2b2b2b" stroke="#2b2b2b" stroke-width="0.8" stroke-linejoin="round" stroke-linecap="round" />
<ellipse cx="1003.4" cy="545.7" rx="2.8" ry="4.8" fill="none" stroke="#2b2b2b" stroke-width="1.6"/>
<ellipse cx="1027.8" cy="595.5" rx="4.6" ry="6.6" fill="none" stroke="#2b2b2b" stroke-width="1.1"/>
<path d="M1065,579 L1070.3,579 L1070.3,584.3 L1065,584.3 Z" fill="none" stroke="#2b2b2b" stroke-width="1.0" stroke-linejoin="round" stroke-linecap="round" />
<circle cx="1039" cy="496.7" r="6.5" fill="none" stroke="#2b2b2b" stroke-width="1"/>
<circle cx="1039.5" cy="496.7" r="3.5" fill="none" stroke="#2b2b2b" stroke-width="0.8"/>
<circle cx="1055.7" cy="517.6" r="6.5" fill="none" stroke="#2b2b2b" stroke-width="1"/>
<circle cx="1056.2" cy="517.6" r="3.5" fill="none" stroke="#2b2b2b" stroke-width="0.8"/>
<path d="M1028.6,488.4 L1029.7,513.4 L1044.3,515.5 L1046.4,532.2 L1067.2,532.2 L1066.2,486.3" fill="none" stroke="#2b2b2b" stroke-width="0.8" stroke-linejoin="round" stroke-linecap="round" />
<path d="M1069,487 L1070,530" fill="none" stroke="#2b2b2b" stroke-width="1.0" stroke-linejoin="round" stroke-linecap="round" />
<path d="M1081.8,521.7 Q1084,575 1121.4,607.2" fill="none" stroke="#2b2b2b" stroke-width="1.0" stroke-linejoin="round" stroke-linecap="round" />
<path d="M1083.5,521.7 Q1086,573 1122,604" fill="none" stroke="#2b2b2b" stroke-width="0.8" stroke-linejoin="round" stroke-linecap="round" />
<path d="M1092.2,521.7 Q1096,560 1119.4,582.2" fill="none" stroke="#2b2b2b" stroke-width="0.9" stroke-linejoin="round" stroke-linecap="round" />
<path d="M1099.5,521.7 Q1103,548 1119.4,563.4" fill="none" stroke="#2b2b2b" stroke-width="0.9" stroke-linejoin="round" stroke-linecap="round" />
<path d="M1106.8,521.7 Q1109,540 1119.4,553" fill="none" stroke="#2b2b2b" stroke-width="0.9" stroke-linejoin="round" stroke-linecap="round" />
<path d="M970.2,542.6 L973.4,596.8 Q978,612 1000,618 L1033.8,628.1" fill="none" stroke="#2b2b2b" stroke-width="1.0" stroke-linejoin="round" stroke-linecap="round" />
<path d="M972,542 L975.2,596 Q980,610 1001,616 L1034,626" fill="none" stroke="#2b2b2b" stroke-width="0.8" stroke-linejoin="round" stroke-linecap="round" />
<path d="M976.5,534.2 L986,585 Q992,598 1010,604 L1077.6,627" fill="none" stroke="#2b2b2b" stroke-width="0.9" stroke-linejoin="round" stroke-linecap="round" />
<path d="M972.3,621.8 L992.1,631.2" fill="none" stroke="#2b2b2b" stroke-width="0.9" stroke-linejoin="round" stroke-linecap="round" />
<path d="M674.6,700 L674.6,677.2 L679,673.8 L679.4,669.7 L682.8,603.8 Q684,594 691.8,592.8 Q791.5,569 895,596.4 Q903,599 904,606.5 L905.1,671.8 L908,674.5 L909.5,740 L910.4,762.5 L904.8,768.2 L903.8,911" fill="none" stroke="#2b2b2b" stroke-width="1.0" stroke-linejoin="round" stroke-linecap="round" />
<path d="M674.6,700 L674.5,752.7 L680.3,759.1 L680.3,911" fill="none" stroke="#2b2b2b" stroke-width="1.0" stroke-linejoin="round" stroke-linecap="round" />
<path d="M690.4,760 L690.4,620.3 Q692,610 700.7,609.3 L750.7,600.4 L754.2,599.7 L778.9,596.3 L809.5,596.8 L832,599.75 Q836,601 837.6,604.3 L888.3,611 Q893.9,613 893.9,617.75 L895,777.5" fill="none" stroke="#2b2b2b" stroke-width="1.0" stroke-linejoin="round" stroke-linecap="round" />
<path d="M684.9,674.5 L690.4,621.6" fill="none" stroke="#2b2b2b" stroke-width="0.9" stroke-linejoin="round" stroke-linecap="round" />
<path d="M693.8,626.4 L691,700" fill="none" stroke="#2b2b2b" stroke-width="0.9" stroke-linejoin="round" stroke-linecap="round" />
<path d="M886,617.8 L889.4,761.8" fill="none" stroke="#2b2b2b" stroke-width="0.9" stroke-linejoin="round" stroke-linecap="round" />
<path d="M750.7,601.8 L730.75,737" fill="none" stroke="#2b2b2b" stroke-width="1.0" stroke-linejoin="round" stroke-linecap="round" />
<path d="M837.6,604.3 L853.4,739.3" fill="none" stroke="#2b2b2b" stroke-width="1.0" stroke-linejoin="round" stroke-linecap="round" />
<path d="M689,755 L780,756.5 L888.3,760.6" fill="none" stroke="#2b2b2b" stroke-width="1.0" stroke-linejoin="round" stroke-linecap="round" />
<path d="M679,785.7 L690.5,785.4 L753,775.7 L819.3,775.7 L865.2,784.6 L896.3,793.5" fill="none" stroke="#2b2b2b" stroke-width="1.0" stroke-linejoin="round" stroke-linecap="round" />
<path d="M890.3,761 L890.7,790.7" fill="none" stroke="#2b2b2b" stroke-width="0.9" stroke-linejoin="round" stroke-linecap="round" />
<path d="M679.5,788.4 L702.7,859.4 L703.5,907.5" fill="none" stroke="#2b2b2b" stroke-width="1.0" stroke-linejoin="round" stroke-linecap="round" />
<path d="M685.3,788.2 L706,857.7" fill="none" stroke="#2b2b2b" stroke-width="1.0" stroke-linejoin="round" stroke-linecap="round" />
<path d="M677.9,790 L677.9,911 M681.2,790 L681.2,911" fill="none" stroke="#2b2b2b" stroke-width="0.9" stroke-linejoin="round" stroke-linecap="round" />
<path d="M690.3,740 L690.3,784.9" fill="none" stroke="#2b2b2b" stroke-width="0.9" stroke-linejoin="round" stroke-linecap="round" />
<path d="M684.5,800 L684.5,911" fill="none" stroke="#2b2b2b" stroke-width="0.8" stroke-linejoin="round" stroke-linecap="round" />
<path d="M896.3,793.5 L873.8,865.8 L872.9,911" fill="none" stroke="#2b2b2b" stroke-width="1.0" stroke-linejoin="round" stroke-linecap="round" />
<path d="M898.2,796.3 L876.6,867.7 L876.6,911" fill="none" stroke="#2b2b2b" stroke-width="1.0" stroke-linejoin="round" stroke-linecap="round" />
<path d="M895.4,805.7 L895.4,911 M902.9,796.3 L902.9,911" fill="none" stroke="#2b2b2b" stroke-width="0.9" stroke-linejoin="round" stroke-linecap="round" />
<path d="M712.2,849.6 Q793,835 870.3,851.4" fill="none" stroke="#2b2b2b" stroke-width="1.0" stroke-linejoin="round" stroke-linecap="round" />
<path d="M711,853.5 Q793,840 870.5,855.5" fill="none" stroke="#2b2b2b" stroke-width="1.0" stroke-linejoin="round" stroke-linecap="round" />
<path d="M707,867 Q708,863.5 711,863 Q790,847 871,858 Q875,860 875.5,868" fill="none" stroke="#2b2b2b" stroke-width="1.0" stroke-linejoin="round" stroke-linecap="round" />
<path d="M707,866 L707,911 M710,870 L710,911" fill="none" stroke="#2b2b2b" stroke-width="0.8" stroke-linejoin="round" stroke-linecap="round" />
<path d="M871.5,866 L871.5,911 M868.5,868 L868.5,911" fill="none" stroke="#2b2b2b" stroke-width="0.8" stroke-linejoin="round" stroke-linecap="round" />
<use href="#door"/><use href="#door" transform="translate(1580.5,5.5) scale(-1,1)"/>
<path d="M496.7,797.4 L496.7,811.0" fill="none" stroke="#2b2b2b" stroke-width="1.2" stroke-linejoin="round" stroke-linecap="round" /><ellipse cx="496.7" cy="807.4" rx="3.6" ry="2.8" fill="none" stroke="#2b2b2b" stroke-width="1"/><path d="M1088.3,803.5 L1088.3,817.1" fill="none" stroke="#2b2b2b" stroke-width="1.2" stroke-linejoin="round" stroke-linecap="round" /><ellipse cx="1088.3" cy="813.5" rx="3.6" ry="2.8" fill="none" stroke="#2b2b2b" stroke-width="1"/><path d="M1039,888 L1043,885 L1043,874.5 L1049.5,874.5 L1050.5,884 L1057,888" fill="none" stroke="#2b2b2b" stroke-width="1.0" stroke-linejoin="round" stroke-linecap="round" />
<path d="M686,783.7 L688.6,783.9 L703.4,771.6 L763.2,763.5 L783.6,764.7 Q791,767 793.8,771.9 L797.6,784.6" fill="none" stroke="#ff5252" stroke-width="2.0" stroke-linejoin="round" stroke-linecap="butt"/>
<path d="M801.4,784.6 L806.5,771.9 Q810,767 816.7,765.5 L839.7,762.4 L857.5,766.8 L898.3,778.2" fill="none" stroke="#ff5252" stroke-width="2.0" stroke-linejoin="round" stroke-linecap="butt"/>
<path d="M650.5,907.4 L700.7,792.4 L732.6,779.5 L773.4,772.6 Q784,772.5 788.7,775.7 L796.3,784.6" fill="none" stroke="#ff5252" stroke-width="2.0" stroke-linejoin="round" stroke-linecap="butt"/>
<path d="M700.7,792.4 L686,806" fill="none" stroke="#ff5252" stroke-width="2.0" stroke-linejoin="round" stroke-linecap="butt"/>
<path d="M802.7,784.6 L811.6,775.7 Q816,772.5 824.4,772.6 L844.8,775.7 L865.2,783.3 L897,793.5" fill="none" stroke="#ff5252" stroke-width="2.0" stroke-linejoin="round" stroke-linecap="butt"/>
<rect x="785.4" y="784.6" width="27.5" height="12.8" fill="#ff5a46"/>
<path d="M685.9,785.9 L686.2,911" fill="none" stroke="#ff5252" stroke-width="2.0" stroke-linejoin="round" stroke-linecap="butt"/>
<path d="M483,812.1 L511.8,879.2 L606.7,880 L684,787" fill="none" stroke="#ff5252" stroke-width="2.0" stroke-linejoin="round" stroke-linecap="butt"/>
<path d="M486.7,810.6 L494,810.6 L494,823.2 L490,823.2 Z" fill="#ff5252"/>
<path d="M487.1,834.2 L493.6,834.2 L493.6,848.2 L487.5,848.2 Z" fill="#ff5252"/>
<rect x="852.9" y="620" width="28" height="13" fill="#ff5a46"/>
<path d="M880.9,624.3 L888.8,624.3 L893,629 L898.4,777.5" fill="none" stroke="#ff5252" stroke-width="2.0" stroke-linejoin="round" stroke-linecap="butt"/>
<path d="M899.2,794.5 L899.2,911" fill="none" stroke="#ff5252" stroke-width="2.0" stroke-linejoin="round" stroke-linecap="butt"/>
<path d="M898.2,794.5 L971,885.1 L1089.2,885.1 L1089.2,834.6" fill="none" stroke="#ff5252" stroke-width="2.0" stroke-linejoin="round" stroke-linecap="butt"/>
<rect x="1086" y="822.8" width="9.6" height="11.8" fill="#ff5a46"/>
<path d="M376,120.7 C385,150 440,154 489,125" fill="none" stroke="#2b2b2b" stroke-width="2.0" stroke-linejoin="round" stroke-linecap="round" />
<path d="M427.6,175.5 C455,172 478,155 486.8,136.8" fill="none" stroke="#2b2b2b" stroke-width="2.0" stroke-linejoin="round" stroke-linecap="round" />
<path d="M437,233.3 C468,214 494,180 499.9,128.9" fill="none" stroke="#2b2b2b" stroke-width="2.0" stroke-linejoin="round" stroke-linecap="round" />
<path d="M499.5,255.2 C500,210 515,170 535,142.9" fill="none" stroke="#2b2b2b" stroke-width="2.0" stroke-linejoin="round" stroke-linecap="round" />
<path d="M574.6,230.2 C545,222 536,195 536.7,158.7" fill="none" stroke="#2b2b2b" stroke-width="2.0" stroke-linejoin="round" stroke-linecap="round" />
<path d="M691.4,354.1 C730,350 760,350 778.4,339.8" fill="none" stroke="#2b2b2b" stroke-width="2.0" stroke-linejoin="round" stroke-linecap="round" />
<path d="M731.3,401.2 C735,375 755,360 778.4,352.7" fill="none" stroke="#2b2b2b" stroke-width="2.0" stroke-linejoin="round" stroke-linecap="round" />
<path d="M942.5,306.8 C970,308 988,335 989.3,371.5" fill="none" stroke="#2b2b2b" stroke-width="2.0" stroke-linejoin="round" stroke-linecap="round" />
<path d="M1039.5,317.9 C1020,322 1008,340 1007.2,362.6" fill="none" stroke="#2b2b2b" stroke-width="2.0" stroke-linejoin="round" stroke-linecap="round" />
<path d="M74.2,648.2 C100,680 115,715 119,751.7" fill="none" stroke="#2b2b2b" stroke-width="2.0" stroke-linejoin="round" stroke-linecap="round" />
<path d="M184.7,684.6 C160,688 142,705 141.3,737.7" fill="none" stroke="#2b2b2b" stroke-width="2.0" stroke-linejoin="round" stroke-linecap="round" />
<path d="M51,381.9 C65,388 77,405 80,426.1" fill="none" stroke="#2b2b2b" stroke-width="2.0" stroke-linejoin="round" stroke-linecap="round" />
<path d="M91.9,353 C97,380 99,410 98.7,436.4" fill="none" stroke="#2b2b2b" stroke-width="2.0" stroke-linejoin="round" stroke-linecap="round" />
<path d="M158.3,398.9 C135,399 118,410 112.3,429.5" fill="none" stroke="#2b2b2b" stroke-width="2.0" stroke-linejoin="round" stroke-linecap="round" />
<path d="M431.8,330.7 C430,370 434,405 440,430" fill="none" stroke="#2b2b2b" stroke-width="2.0" stroke-linejoin="round" stroke-linecap="round" />
<path d="M462,363.6 C448,380 441,405 440,430" fill="none" stroke="#2b2b2b" stroke-width="2.0" stroke-linejoin="round" stroke-linecap="round" />
<path d="M394.8,386.9 C412,393 432,410 440,430" fill="none" stroke="#2b2b2b" stroke-width="2.0" stroke-linejoin="round" stroke-linecap="round" />
<path d="M438.5,431 C439,460 445,495 459,515 Q463,520 473,520" fill="none" stroke="#2b2b2b" stroke-width="1.0" stroke-linejoin="round" stroke-linecap="round" />
<path d="M442,431 C443,460 449,492 462,511 Q466,516 474,516" fill="none" stroke="#2b2b2b" stroke-width="1.0" stroke-linejoin="round" stroke-linecap="round" />
<path d="M471,515 L478,517 L477,522 L470,521 Z" fill="#2b2b2b" stroke="#2b2b2b" stroke-width="0.8" stroke-linejoin="round" stroke-linecap="round" />
<path d="M52.6,893.9 C70,893 85,900 93.3,908" fill="none" stroke="#2b2b2b" stroke-width="2.0" stroke-linejoin="round" stroke-linecap="round" />
<path d="M125.7,876.8 L121,908.4" fill="none" stroke="#2b2b2b" stroke-width="2.0" stroke-linejoin="round" stroke-linecap="round" />
<path d="M12.6,8.8 L328,11.0 L325.8,282.5 L10.2,279.7 Z" fill="none" stroke="#ff5757" stroke-width="2" stroke-linejoin="round"/>
<path d="M347.9,11.2 L623,13.9 L620.7,285.8 L345.3,283.2 Z" fill="none" stroke="#ff5757" stroke-width="2" stroke-linejoin="round"/>
<path d="M639.5,14.2 L880.1,16.6 L878.9,187.9 L638.2,185.8 Z" fill="none" stroke="#ff5757" stroke-width="2" stroke-linejoin="round"/>
<path d="M894.5,16.9 L1198,19.9 L1194.8,279.3 L892,276.3 Z" fill="none" stroke="#ff5757" stroke-width="2" stroke-linejoin="round"/>
<path d="M639.2,199.4 L878.9,201.3 L875.9,440.5 L636.9,438.5 Z" fill="none" stroke="#ff5757" stroke-width="2" stroke-linejoin="round"/>
<path d="M9.9,299.1 L248.3,301.2 L245.4,594.1 L6.9,591.6 Z" fill="none" stroke="#ff5757" stroke-width="2" stroke-linejoin="round"/>
<path d="M363.8,302.3 L568.1,304.3 L565.7,536.6 L361.1,534.5 Z" fill="none" stroke="#ff5757" stroke-width="2" stroke-linejoin="round"/>
<path d="M892.1,288.9 L1151.7,291.4 L1150.6,444.2 L890.8,441.8 Z" fill="none" stroke="#ff5757" stroke-width="2" stroke-linejoin="round"/>
<path d="M949.5,461.7 L1150.2,463.7 L1148.3,636.3 L948.2,634.7 Z" fill="none" stroke="#ff5757" stroke-width="2" stroke-linejoin="round"/>
<path d="M6.4,604.9 L296.9,607.9 L294.1,838 L3.85,834.5 Z" fill="none" stroke="#ff5757" stroke-width="2" stroke-linejoin="round"/>
<path d="M3.7,847.8 L294,850.9 L293.4,925 L3.1,922 Z" fill="none" stroke="#ff5757" stroke-width="2" stroke-linejoin="round"/>
<path d="M307.7,282.5 L305,556.3 L382,557.1 L379,840.2 L490,841.2" fill="none" stroke="#ff5757" stroke-width="2" stroke-linejoin="miter"/>
<path d="M245.4,579.8 L349.3,580.6 L345.8,895.8 L530.5,897.5 L530.7,882" fill="none" stroke="#ff5757" stroke-width="2" stroke-linejoin="miter"/>
<path d="M295,724.4 L321.6,724.6 L319,915" fill="none" stroke="#ff5757" stroke-width="2" stroke-linejoin="miter"/>
<path d="M430.4,536 L427.4,810.3 L492,810.9" fill="none" stroke="#ff5757" stroke-width="2" stroke-linejoin="miter"/>
<path d="M590,285.8 L584.2,782.6 L686,783.9" fill="none" stroke="#ff5757" stroke-width="2" stroke-linejoin="miter"/>
<path d="M813.7,440.5 L811.9,621.2 L896.3,777.6" fill="none" stroke="#ff5757" stroke-width="2" stroke-linejoin="miter"/>
<path d="M1048.6,636.3 L1047.1,787.9 L904.8,786.6" fill="none" stroke="#ff5757" stroke-width="2" stroke-linejoin="miter"/>
<path d="M1179.1,279.3 L1173.7,829 L1095.6,828.5" fill="none" stroke="#ff5757" stroke-width="2" stroke-linejoin="miter"/>
<text x="0" y="0" text-anchor="end" class="ti" transform="translate(306 54) rotate(0.55) scale(0.96 1)">6/36</text>
<text x="0" y="0" text-anchor="end" class="ti" transform="translate(607.3 57.6) rotate(0.55) scale(0.96 1)">C144</text>
<text x="0" y="0" text-anchor="end" class="ti" transform="translate(872 64.5) rotate(0.55) scale(0.96 1)">15/1</text>
<text x="0" y="0" text-anchor="end" class="ti" transform="translate(1183 67.8) rotate(0.55) scale(0.96 1)">6/5</text>
<text x="0" y="0" text-anchor="end" class="ti" transform="translate(864.6 241) rotate(0.55) scale(0.96 1)">C143</text>
<text x="0" y="0" text-anchor="end" class="ti" transform="translate(226.6 338.7) rotate(0.55) scale(0.96 1)">C79</text>
<text x="0" y="0" text-anchor="end" class="ti" transform="translate(558.6 337) rotate(0.55) scale(0.96 1)">3/14</text>
<text x="0" y="0" text-anchor="end" class="ti" transform="translate(1136.4 330) rotate(0.55) scale(0.96 1)">C3</text>
<text x="0" y="0" text-anchor="end" class="ti" transform="translate(1139 498.7) rotate(0.55) scale(0.96 1)">31/10</text>
<text x="0" y="0" text-anchor="end" class="ti" transform="translate(283.3 650.6) rotate(0.55) scale(0.96 1)">C1</text>
<text x="0" y="0" text-anchor="end" class="ti" transform="translate(284 883) rotate(0.55) scale(0.96 1)">6/7</text>
<text x="45.3" y="52.5" class="lb" transform="rotate(0.55 45.3 52.5)">BL-R</text>
<text x="140.8" y="36.0" class="lb" transform="rotate(0.55 140.8 36.0)">R-W</text>
<text x="94.7" y="63.400000000000006" class="lb" transform="rotate(0.55 94.7 63.400000000000006)">2</text>
<text x="155.7" y="66.0" class="lb" transform="rotate(0.55 155.7 66.0)">1</text>
<text x="355.6" y="100.5" class="lb" transform="rotate(0.55 355.6 100.5)">Y-SB</text>
<text x="351.9" y="115.0" class="lb" transform="rotate(0.55 351.9 115.0)">(Y-W)</text>
<text x="401" y="139.5" class="lb" transform="rotate(0.55 401 139.5)">14</text>
<text x="437" y="164.5" class="lb" transform="rotate(0.55 437 164.5)">13</text>
<text x="368.8" y="180.2" class="lb" transform="rotate(0.55 368.8 180.2)">GN-SB</text>
<text x="365" y="194.0" class="lb" transform="rotate(0.55 365 194.0)">(GN-W)</text>
<text x="443.2" y="213.1" class="lb" transform="rotate(0.55 443.2 213.1)">12</text>
<text x="379" y="247.5" class="lb" transform="rotate(0.55 379 247.5)">BN-SB</text>
<text x="389.4" y="261.0" class="lb" transform="rotate(0.55 389.4 261.0)">(SB)</text>
<text x="513.6" y="227.1" class="lb" transform="rotate(0.55 513.6 227.1)">6</text>
<text x="485.4" y="272.5" class="lb" transform="rotate(0.55 485.4 272.5)">BL-R</text>
<text x="557.4" y="207.5" class="lb" transform="rotate(0.55 557.4 207.5)">5</text>
<text x="576" y="237.5" class="lb" transform="rotate(0.55 576 237.5)">R-W</text>
<text x="671.7" y="168.3" class="lb" transform="rotate(0.55 671.7 168.3)">R</text>
<text x="740.2" y="173.5" class="lb" transform="rotate(0.55 740.2 173.5)">R</text>
<text x="907.5" y="55.7" class="lb" transform="rotate(0.55 907.5 55.7)">BL-R</text>
<text x="1001.2" y="39.8" class="lb" transform="rotate(0.55 1001.2 39.8)">R-W</text>
<text x="956.8" y="67.1" class="lb" transform="rotate(0.55 956.8 67.1)">2</text>
<text x="1016.2" y="69.7" class="lb" transform="rotate(0.55 1016.2 69.7)">1</text>
<text x="702.8" y="346.9" class="lb" transform="rotate(0.55 702.8 346.9)">6</text>
<text x="647.7" y="356.9" class="lb" transform="rotate(0.55 647.7 356.9)">BL-R</text>
<text x="765.6" y="374.0" class="lb" transform="rotate(0.55 765.6 374.0)">5</text>
<text x="715" y="416.8" class="lb" transform="rotate(0.55 715 416.8)">R-W</text>
<text x="71.5" y="348.1" class="lb" transform="rotate(0.55 71.5 348.1)">Y-SB</text>
<text x="29" y="380.5" class="lb" transform="rotate(0.55 29 380.5)">SB</text>
<text x="104.8" y="383.8" class="lb" transform="rotate(0.55 104.8 383.8)">3</text>
<text x="164.4" y="405.9" class="lb" transform="rotate(0.55 164.4 405.9)">GN-SB</text>
<text x="58.5" y="419.5" class="lb" transform="rotate(0.55 58.5 419.5)">1</text>
<text x="137.2" y="422.9" class="lb" transform="rotate(0.55 137.2 422.9)">2</text>
<text x="416.7" y="325.0" class="lb" transform="rotate(0.55 416.7 325.0)">Y-SB</text>
<text x="454.3" y="356.1" class="lb" transform="rotate(0.55 454.3 356.1)">SB</text>
<text x="367.3" y="382.7" class="lb" transform="rotate(0.55 367.3 382.7)">GN-SB</text>
<text x="906.3" y="308.5" class="lb" transform="rotate(0.55 906.3 308.5)">R-W</text>
<text x="937" y="324.2" class="lb" transform="rotate(0.55 937 324.2)">38</text>
<text x="1041.8" y="320.9" class="lb" transform="rotate(0.55 1041.8 320.9)">BL-R</text>
<text x="1018.3" y="349.5" class="lb" transform="rotate(0.55 1018.3 349.5)">41</text>
<text x="54.6" y="642.5" class="lb" transform="rotate(0.55 54.6 642.5)">R-W</text>
<text x="77.8" y="692.9" class="lb" transform="rotate(0.55 77.8 692.9)">38</text>
<text x="190.9" y="691.5" class="lb" transform="rotate(0.55 190.9 691.5)">BL-R</text>
<text x="158.1" y="720.8" class="lb" transform="rotate(0.55 158.1 720.8)">41</text>
<text x="8.9" y="904.0" class="lb" transform="rotate(0.55 8.9 904.0)">BL-R</text>
<text x="111" y="871.0" class="lb" transform="rotate(0.55 111 871.0)">R-W</text>
<rect x="0" y="0" width="1255" height="1" fill="#f7f7f7"/>
<rect x="0" y="1" width="1255" height="1" fill="#2d2d2d"/>
<rect x="0" y="2" width="1255" height="1" fill="#eeeeee"/>
<rect x="0" y="3" width="1255" height="1" fill="#e4e4e4"/>
<rect x="0" y="4" width="1255" height="1" fill="#e8e8e8"/>
<rect x="0" y="5" width="1255" height="1" fill="#f0f0f0"/>
<rect x="0" y="6" width="1255" height="1" fill="#fbfbfb"/>
<rect x="1251" y="2" width="4" height="906" fill="#555555"/>
<rect x="0" y="907" width="1255" height="1" fill="#f4f5f5"/>
<rect x="0" y="908" width="1255" height="1" fill="#2a333c"/>
<rect x="0" y="909" width="1255" height="1" fill="#a9b4bc"/>
<rect x="0" y="910" width="1255" height="1" fill="#66777f"/>
<rect x="67" y="908" width="58" height="1" fill="#0b0b0b"/><rect x="67" y="909" width="58" height="1" fill="#f3f5f6"/><rect x="67" y="910" width="58" height="1" fill="#d9dde0"/><rect x="67" y="909" width="1" height="2" fill="#1a1f22"/><rect x="124" y="909" width="1" height="2" fill="#1a1f22"/>
<rect x="377" y="908" width="59" height="1" fill="#0b0b0b"/><rect x="377" y="909" width="59" height="1" fill="#f3f5f6"/><rect x="377" y="910" width="59" height="1" fill="#d9dde0"/><rect x="377" y="909" width="1" height="2" fill="#1a1f22"/><rect x="435" y="909" width="1" height="2" fill="#1a1f22"/>
<rect x="439" y="908" width="58" height="1" fill="#0b0b0b"/><rect x="439" y="909" width="58" height="1" fill="#f3f5f6"/><rect x="439" y="910" width="58" height="1" fill="#d9dde0"/><rect x="439" y="909" width="1" height="2" fill="#1a1f22"/><rect x="496" y="909" width="1" height="2" fill="#1a1f22"/>
<rect x="500" y="908" width="58" height="1" fill="#0b0b0b"/><rect x="500" y="909" width="58" height="1" fill="#f3f5f6"/><rect x="500" y="910" width="58" height="1" fill="#d9dde0"/><rect x="500" y="909" width="1" height="2" fill="#1a1f22"/><rect x="557" y="909" width="1" height="2" fill="#1a1f22"/>
</svg>
</body></html>
